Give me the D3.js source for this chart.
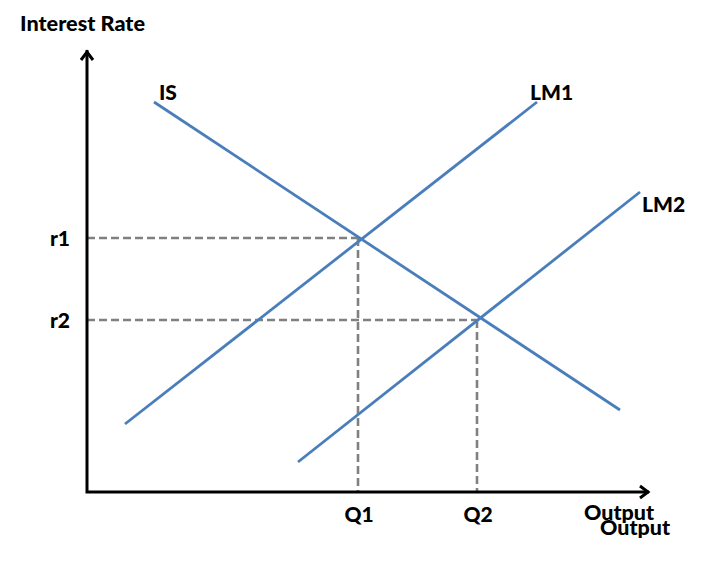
<!DOCTYPE html>
<html><head><meta charset="utf-8">
<script src="https://cdn.jsdelivr.net/npm/d3@7"></script>
<style>body{margin:0;background:#fff}svg{display:block}</style>
</head><body>
<script>
// Data (in chart units; origin at the axes corner)
const curveNames = ["IS", "LM1", "LM2"];
const isCurve  = [[67, 390], [533, 82]];
const lm1Curve = [[38, 68], [450, 390]];
const lm2Curve = [[211, 30], [553, 300]];
const rateLevels = [254, 172];      // r1, r2
const rateLabels = ["r1", "r2"];
const outputLevels = [271, 390];    // Q1, Q2
const outputLabels = ["Q1", "Q2"];
const xAxisTitle = "Output";
const yAxisTitle = "Interest Rate";

const W = 714, H = 565;
const x = d3.scaleLinear().domain([0, 561]).range([87, 648]);
const y = d3.scaleLinear().domain([0, 440]).range([492, 52]);

const svg = d3.select("body").append("svg").attr("width", W).attr("height", H);
const font = "Lato, 'Open Sans', sans-serif";
const blue = "#4a7ebb", gray = "#808080";

// dashed guide lines
rateLevels.forEach((r, i) => {
  svg.append("line").attr("x1", x(0)).attr("x2", x(outputLevels[i]))
    .attr("y1", y(r)).attr("y2", y(r))
    .attr("stroke", gray).attr("stroke-width", 2.6).attr("stroke-dasharray", "8,4");
  svg.append("line").attr("x1", x(outputLevels[i])).attr("x2", x(outputLevels[i]))
    .attr("y1", y(r)).attr("y2", y(0))
    .attr("stroke", gray).attr("stroke-width", 2.6).attr("stroke-dasharray", "8,4");
});

// curves
const line = d3.line().x(d => x(d[0])).y(d => y(d[1]));
[isCurve, lm1Curve, lm2Curve].forEach(c => {
  svg.append("path").attr("d", line(c)).attr("fill", "none")
    .attr("stroke", blue).attr("stroke-width", 2.8);
});

// axes
svg.append("path")
  .attr("d", `M${x(0)},${y(440)-2} L${x(0)},${y(0)} L${x(561)+1},${y(0)}`)
  .attr("fill", "none").attr("stroke", "#000").attr("stroke-width", 3);
svg.append("path")
  .attr("d", `M${x(0)-6},${y(440)+8} L${x(0)},${y(440)} L${x(0)+6},${y(440)+8}`)
  .attr("fill", "none").attr("stroke", "#000").attr("stroke-width", 3);
svg.append("path")
  .attr("d", `M${x(561)-8},${y(0)-6} L${x(561)},${y(0)} L${x(561)-8},${y(0)+6}`)
  .attr("fill", "none").attr("stroke", "#000").attr("stroke-width", 3);

function label(t, px, py, anchor, len) {
  const el = svg.append("text").attr("x", px).attr("y", py).attr("text-anchor", anchor || "start")
    .attr("font-family", font).attr("font-weight", 900).attr("font-size", 21)
    .attr("fill", "#000").text(t);
  if (len) el.attr("textLength", len).attr("lengthAdjust", "spacingAndGlyphs");
}
label(yAxisTitle, 20, 31, "start", 125);
label(curveNames[0], x(72), y(392));
label(curveNames[1], x(443), y(392));
label(curveNames[2], x(555), y(280));
rateLevels.forEach((r, i) => label(rateLabels[i], 70, y(r) + 8, "end"));
outputLevels.forEach((q, i) => label(outputLabels[i], x(q) + 1, 522, "middle"));
label(xAxisTitle, 584, 520, "start", 70);
label(xAxisTitle, 600, 535, "start", 70);
</script>
</body></html>
